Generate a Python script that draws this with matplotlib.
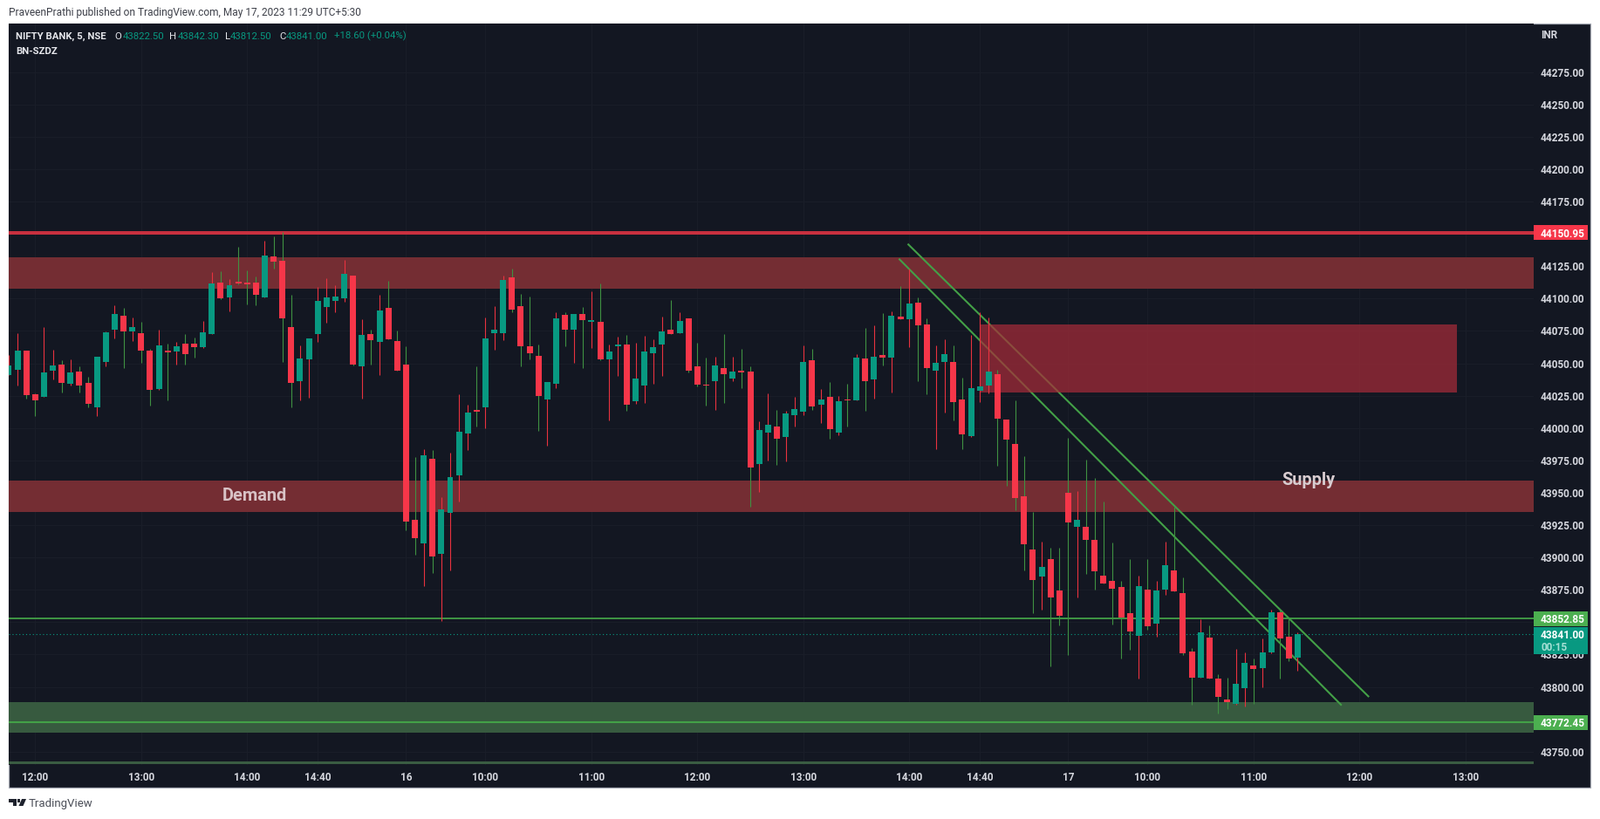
import matplotlib
matplotlib.use("Agg")
from matplotlib import pyplot as plt
from matplotlib.patches import Rectangle, Polygon
import numpy as np

plt.rcParams["font.family"] = "Roboto"

W, H = 1834, 939

# 5 minute candles
opens = [
    44040.9, 44045.0, 44059.8, 44026.1, 44024.1, 44044.3, 44049.0, 44034.2, 44043.6, 44034.9,
    44016.0, 44051.0, 44076.0, 44086.8, 44074.6, 44073.3, 44059.8, 44030.2, 44059.8, 44059.1,
    44065.2, 44065.2, 44062.5, 44072.6, 44112.4, 44100.9, 44113.0, 44112.4, 44112.4, 44100.9,
    44132.6, 44129.2, 44078.0, 44036.2, 44053.1, 44072.6, 44093.5, 44098.2, 44100.2, 44117.8,
    44047.7, 44072.6, 44066.5, 44092.8, 44067.2, 44049.0, 43929.0, 43910.8, 43976.2, 43902.7,
    43934.4, 43963.4, 43995.7, 44013.9, 44015.9, 44073.2, 44073.2, 44116.3, 44094.1, 44063.1,
    44055.7, 44022.0, 44034.1, 44087.4, 44075.9, 44088.0, 44082.0, 44082.0, 44053.0, 44063.1,
    44064.5, 44020.7, 44032.8, 44057.7, 44064.5, 44075.9, 44073.2, 44084.7, 44047.6, 44033.5,
    44036.2, 44046.3, 44038.2, 44044.2, 44043.6, 43972.1, 43996.4, 44001.1, 43993.0, 44009.9,
    44012.6, 44052.3, 44018.0, 44024.0, 43996.4, 44022.0, 44021.3, 44053.7, 44037.5, 44056.4,
    44054.3, 44086.0, 44084.0, 44096.8, 44079.9, 44044.2, 44051.0, 44051.0, 44022.0, 43993.7,
    44028.7, 44032.8, 44041.5, 44006.5, 43987.6, 43947.3, 43906.2, 43885.3, 43898.8, 43874.5,
    43950.0, 43923.7, 43923.7, 43913.6, 43886.0, 43881.9, 43877.2, 43857.0, 43839.5, 43875.2,
    43848.9, 43875.2, 43890.0, 43872.5, 43827.3, 43807.1, 43838.1, 43806.4, 43790.3, 43786.9,
    43799.0, 43816.6, 43814.5, 43826.7, 43857.7, 43838.8, 43822.5,
]
highs = [
    44056.7, 44073.3, 44059.8, 44026.8, 44078.0, 44060.5, 44052.4, 44053.1, 44047.7, 44039.6,
    44055.1, 44074.6, 44094.8, 44092.8, 44085.4, 44082.0, 44061.2, 44076.0, 44065.2, 44066.5,
    44072.6, 44069.9, 44082.7, 44120.4, 44121.1, 44115.1, 44140.0, 44121.8, 44117.1, 44144.7,
    44148.1, 44151.4, 44102.9, 44063.8, 44069.2, 44109.0, 44115.7, 44110.3, 44129.9, 44117.8,
    44084.1, 44076.0, 44102.9, 44113.7, 44075.3, 44063.2, 43977.5, 43983.6, 43982.9, 43946.5,
    43980.9, 44026.0, 44018.0, 44047.6, 44085.3, 44094.1, 44117.7, 44123.1, 44103.5, 44101.5,
    44064.5, 44035.5, 44089.4, 44089.4, 44088.0, 44093.4, 44105.6, 44111.6, 44064.5, 44070.5,
    44071.9, 44065.8, 44071.2, 44068.5, 44086.0, 44098.8, 44089.4, 44084.7, 44065.8, 44054.3,
    44055.0, 44072.5, 44055.0, 44061.1, 44047.6, 44005.2, 44026.7, 44013.9, 44013.2, 44024.0,
    44063.8, 44061.1, 44030.1, 44035.5, 44024.7, 44034.1, 44057.0, 44077.3, 44079.3, 44088.7,
    44090.1, 44109.6, 44123.1, 44100.8, 44084.7, 44063.8, 44068.5, 44063.8, 44038.8, 44071.9,
    44089.4, 44085.3, 44044.9, 44006.5, 44021.3, 43978.3, 43935.1, 43912.2, 43907.5, 43907.5,
    43992.4, 43951.3, 43975.6, 43961.2, 43943.2, 43911.6, 43881.9, 43898.8, 43886.0, 43898.8,
    43881.9, 43912.2, 43939.2, 43884.6, 43830.0, 43852.3, 43847.5, 43809.8, 43807.1, 43829.4,
    43826.7, 43821.9, 43837.4, 43859.7, 43859.7, 43852.9, 43842.3,
]
lows = [
    44040.9, 44032.9, 44022.7, 44009.3, 44024.1, 44037.6, 44027.5, 44032.9, 44027.5, 44016.0,
    44009.3, 44047.7, 44069.2, 44046.3, 44067.2, 44050.4, 44017.4, 44029.5, 44021.4, 44049.0,
    44049.0, 44054.4, 44061.8, 44072.6, 44099.6, 44090.1, 44111.0, 44095.5, 44094.8, 44100.9,
    44123.1, 44051.0, 44016.0, 44021.4, 44023.4, 44066.5, 44081.4, 44089.5, 44097.5, 44048.4,
    44022.7, 44049.0, 44040.9, 44068.6, 44044.3, 43920.9, 43902.1, 43877.8, 43887.9, 43850.9,
    43889.9, 43943.2, 43982.9, 44001.1, 43999.8, 44060.4, 44067.8, 44089.4, 44047.6, 44053.0,
    43997.7, 43986.3, 44030.8, 44063.1, 44050.3, 44046.3, 44061.8, 44052.3, 44005.8, 44040.2,
    44013.2, 44018.6, 44019.3, 44034.1, 44040.2, 44072.5, 44073.2, 44042.9, 44032.1, 44017.3,
    44013.9, 44019.3, 44036.2, 44030.8, 43939.1, 43950.6, 43974.8, 43971.4, 43974.2, 44001.1,
    44009.9, 44013.9, 44003.8, 43991.7, 43994.4, 44001.1, 44021.3, 44013.2, 44022.7, 44048.3,
    44027.4, 44084.0, 44062.4, 44036.2, 44026.0, 43983.6, 44011.9, 44005.8, 43983.6, 43993.0,
    44020.0, 44026.7, 43970.8, 43955.3, 43936.5, 43890.0, 43857.0, 43859.7, 43815.9, 43847.5,
    43824.6, 43869.1, 43887.3, 43875.2, 43879.9, 43848.2, 43821.9, 43828.7, 43806.4, 43844.2,
    43838.8, 43871.1, 43873.8, 43824.6, 43786.2, 43807.1, 43806.4, 43779.5, 43782.9, 43786.2,
    43784.9, 43786.9, 43799.7, 43826.0, 43806.4, 43819.9, 43812.5,
]
closes = [
    44048.4, 44059.8, 44025.4, 44021.4, 44043.0, 44048.4, 44034.9, 44043.0, 44032.9, 44018.7,
    44055.1, 44074.0, 44088.1, 44074.6, 44078.0, 44059.8, 44029.5, 44063.8, 44058.5, 44063.2,
    44057.1, 44062.5, 44074.0, 44111.7, 44100.2, 44110.3, 44111.7, 44111.0, 44102.9, 44133.3,
    44128.5, 44084.7, 44034.9, 44053.7, 44069.2, 44098.2, 44100.9, 44101.6, 44119.1, 44049.0,
    44071.9, 44067.9, 44090.8, 44068.6, 44044.3, 43927.7, 43914.9, 43978.9, 43900.7, 43937.1,
    43962.0, 43997.1, 44011.9, 44012.6, 44069.2, 44075.9, 44114.3, 44091.4, 44063.1, 44057.7,
    44024.7, 44035.5, 44084.7, 44075.9, 44088.0, 44083.3, 44083.3, 44053.0, 44059.1, 44064.5,
    44018.0, 44038.2, 44059.1, 44062.4, 44074.6, 44072.5, 44082.6, 44044.2, 44033.5, 44032.8,
    44048.3, 44041.5, 44043.6, 44042.9, 43969.4, 43998.4, 44002.5, 43991.7, 44011.2, 44014.6,
    44051.0, 44016.6, 44022.0, 43999.1, 44020.7, 44021.3, 44054.3, 44036.2, 44055.0, 44054.3,
    44086.7, 44084.0, 44096.1, 44079.3, 44046.3, 44050.3, 44057.0, 44020.0, 43995.0, 44030.8,
    44032.1, 44043.6, 44007.2, 43991.0, 43945.9, 43910.2, 43882.6, 43892.7, 43869.1, 43855.0,
    43927.1, 43929.1, 43913.6, 43889.3, 43879.9, 43875.8, 43853.6, 43842.8, 43877.9, 43846.9,
    43874.5, 43894.0, 43873.8, 43826.0, 43807.1, 43842.2, 43806.4, 43792.3, 43788.3, 43802.4,
    43818.6, 43813.9, 43826.7, 43857.7, 43837.4, 43822.0, 43841.0,
]

time_ticks = [3, 15, 27, 35, 45, 54, 66, 78, 90, 102, 110, 120, 129, 141, 153, 165]
time_labels = ["12:00", "13:00", "14:00", "14:40", "16", "10:00", "11:00", "12:00", "13:00",
               "14:00", "14:40", "17", "10:00", "11:00", "12:00", "13:00"]
price_ticks = list(range(43750, 44300, 25))
# these sit fully behind the coloured price boxes
hidden_ticks = [43775, 43850, 44150]

resistance = 44150.95
support_a = 43852.85
support_b = 43772.45
floor_line = 43741.7
last_price = 43841.00

band_top = [44132.0, 43959.3]
band_bottom = [44107.8, 43935.0]
supply_x = [110, 164]
supply_top = 44080.0
supply_bottom = 44027.4
green_top = 43788.2
green_bottom = 43764.6

trend_upper_x = [101.9, 154.0]
trend_upper_y = [44141.8, 43792.7]
trend_lower_x = [100.9, 150.9]
trend_lower_y = [44130.3, 43786.2]

BG = "#131722"
UP = "#089981"
DOWN = "#f63649"
WICK_UP = "#3f9142"
WICK_DOWN = "#e8323f"
TXT = "#d6d8df"
LINE_GREEN = "#43a047"


def fx(px):
    return px / W


def fy(px):
    return 1 - px / H


fig = plt.figure(figsize=(W / 100, H / 100), dpi=100, facecolor="white")
fig.add_artist(Rectangle((fx(10), fy(903)), fx(1813), 876 / H, transform=fig.transFigure,
                         facecolor=BG, edgecolor="#a8acb6", linewidth=0.9, zorder=-1))

ax = fig.add_axes([fx(10), fy(877), fx(1748), 850 / H], facecolor=BG)
ax.set_xlim(0, 172.73)
ax.set_ylim(43739.7, 44312.5)
for s in ax.spines.values():
    s.set_visible(False)

ax.set_axisbelow(True)
ax.set_xticks(time_ticks, time_labels, fontweight="semibold")
ax.yaxis.tick_right()
ax.set_yticks(price_ticks, ["" if p in hidden_ticks else f"{p:.2f}" for p in price_ticks], fontweight="semibold")
ax.tick_params(axis="x", length=0, pad=5.6, labelsize=8.5, labelcolor=TXT)
ax.tick_params(axis="y", length=0, pad=5.8, labelsize=8.5, labelcolor=TXT)
ax.grid(True, color="#191d28", linewidth=0.8)

# zones
for top, bottom in zip(band_top, band_bottom):
    ax.axhspan(bottom, top, color="#742d33", linewidth=0, zorder=1)
ax.axhspan(green_bottom, green_top, color="#375a3f", linewidth=0, zorder=1)

# levels and trend lines
ax.axhline(resistance, color="#c8303f", linewidth=2.9, zorder=2)
ax.axhline(support_a, color=LINE_GREEN, linewidth=1.3, zorder=2)
ax.axhline(support_b, color=LINE_GREEN, linewidth=1.5, zorder=2)
ax.axhline(floor_line, color="#3a5c42", linewidth=2.2, zorder=2)
ax.axhline(last_price, color=UP, linewidth=0.8, linestyle=(0, (1, 2.5)), zorder=2)
ax.plot(trend_upper_x, trend_upper_y, color=LINE_GREEN, linewidth=1.5, zorder=2)
ax.plot(trend_lower_x, trend_lower_y, color=LINE_GREEN, linewidth=1.5, zorder=2)

# the supply box sits over the trend lines
ax.fill_between(supply_x, supply_bottom, supply_top, color="#a92c39", alpha=0.7, linewidth=0, zorder=3)

# candles, wick colour is the opposite of the body here
o = np.array(opens)
h = np.array(highs)
l = np.array(lows)
c = np.array(closes)
x = np.arange(len(o))
rising = c >= o
ax.vlines(x, l, h, colors=[WICK_DOWN if r else WICK_UP for r in rising], linewidth=0.8, zorder=4)
ax.bar(x, np.abs(c - o), bottom=np.minimum(o, c), width=0.69, linewidth=0,
       color=[UP if r else DOWN for r in rising], zorder=5)

ax.text(27.9, 43947.6, "Demand", color="#d8c2c5", fontsize=14.4, fontweight="bold",
        ha="center", va="center", zorder=6)
ax.text(147.2, 43959.4, "Supply", color="#d8ccd0", fontsize=14.4, fontweight="bold",
        ha="center", va="center", zorder=6)

# price labels on the right scale
trans = ax.get_yaxis_transform()
box_w = 62 / 1748
box_h = 17 / 1.484
for price, col in [(resistance, "#f63649"), (support_a, "#4caf50"), (support_b, "#4caf50")]:
    ax.add_patch(Rectangle((1, price - box_h / 2), box_w, box_h, transform=trans, facecolor=col,
                           linewidth=0, clip_on=False, zorder=7))
    ax.text(1 + 8 / 1748, price, f"{price:.2f}", transform=trans, color="white", fontsize=8.5,
            fontweight="semibold", va="center_baseline", ha="left", zorder=8, clip_on=False)
ax.add_patch(Rectangle((1, last_price - 31 / 1.484 + 5.5), box_w, 31 / 1.484, transform=trans, facecolor=UP,
                       linewidth=0, clip_on=False, zorder=7))
ax.text(1 + 8 / 1748, last_price, f"{last_price:.2f}", transform=trans, color="white", fontsize=8.5,
        fontweight="semibold", va="center_baseline", ha="left", zorder=8, clip_on=False)
ax.text(1 + 8 / 1748, last_price - 9.4, "00:15", transform=trans, color="#a5e0d5", fontsize=8.5,
        fontweight="semibold", va="center_baseline", ha="left", zorder=8, clip_on=False)

# header
fig.text(fx(10), fy(14.7), "PraveenPrathi published on TradingView.com, May 17, 2023 11:29 UTC+5:30",
         color="#3c3f48", fontsize=8.6, va="center")
fig.text(fx(18), fy(41.7), "NIFTY BANK, 5, NSE", color="#e6e7ec", fontsize=8.2, va="center", fontweight="semibold")
fig.text(fx(18), fy(59), "BN-SZDZ", color="#e6e7ec", fontsize=8.2, va="center", fontweight="semibold")
for px, txt, col in [(131, "O", "#e6e7ec"), (141, "43822.50", UP), (194, "H", "#e6e7ec"), (204, "43842.30", UP),
                     (258, "L", "#e6e7ec"), (264, "43812.50", UP), (320, "C", "#e6e7ec"), (328, "43841.00", UP),
                     (383, "+18.60 (+0.04%)", UP)]:
    fig.text(fx(px), fy(41.7), txt, color=col, fontsize=8.2, va="center")
fig.text(fx(1776), fy(41), "INR", color=TXT, fontsize=8.5, va="center", ha="center", fontweight="semibold")

# footer logo
logo = "#1e222d"
fig.add_artist(Polygon([(fx(10), fy(916)), (fx(18.5), fy(916)), (fx(18.5), fy(924)), (fx(14.5), fy(924)),
                        (fx(14.5), fy(920)), (fx(10), fy(920))], transform=fig.transFigure, color=logo, linewidth=0))
fig.add_artist(Polygon([(fx(25), fy(916)), (fx(30), fy(916)), (fx(26.5), fy(924)), (fx(21.5), fy(924))],
                       transform=fig.transFigure, color=logo, linewidth=0))
fig.add_artist(Rectangle((fx(19.8), fy(920)), 3.4 / W, 3.6 / H, transform=fig.transFigure, color=logo, linewidth=0))
fig.text(fx(33), fy(921.5), "TradingView", color="#4a4d57", fontsize=9.5, va="center")

fig.savefig("out.png", dpi=100)
